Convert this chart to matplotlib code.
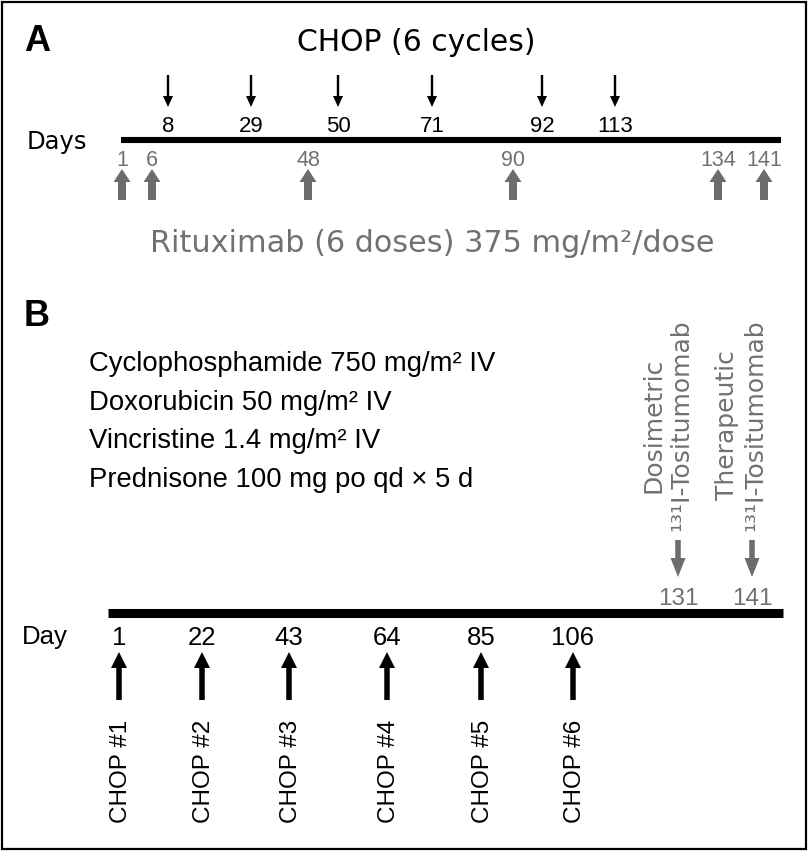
import matplotlib
matplotlib.use("Agg")
import matplotlib.pyplot as plt
from matplotlib.patches import FancyArrow, Rectangle

# ---------------- data ----------------
chop_days_a = [8, 29, 50, 71, 92, 113]
rituximab_days = [1, 6, 48, 90, 134, 141]
chop_days_b = [1, 22, 43, 64, 85, 106]
chop_cycle_labels = ["CHOP #1", "CHOP #2", "CHOP #3", "CHOP #4", "CHOP #5", "CHOP #6"]
tositumomab_days = [131, 141]
tositumomab_labels = ["Dosimetric\n¹³¹I-Tositumomab", "Therapeutic\n¹³¹I-Tositumomab"]
regimen_lines = [
    "Cyclophosphamide 750 mg/m² IV",
    "Doxorubicin 50 mg/m² IV",
    "Vincristine 1.4 mg/m² IV",
    "Prednisone 100 mg po qd × 5 d",
]
title_a = "CHOP (6 cycles)"
rituximab_text = "Rituximab (6 doses) 375 mg/m²/dose"

# ---------------- layout (schematic pixel positions) ----------------
xa_chop = [168, 251, 338, 432, 542, 615]
xa_ritux = [122, 152, 308, 513, 718, 764]
xb_chop = [119, 202, 289, 387, 481, 573]
xb_tosi = [678, 752]
GRAY = "#6c6c6c"
GRAY_T = "#717171"
W, H = 809, 851

fig = plt.figure(figsize=(W / 100, H / 100), dpi=100)
ax = fig.add_axes([0, 0, 1, 1])
ax.set_xlim(0, W)
ax.set_ylim(H, 0)
ax.axis("off")

DV = "DejaVu Sans"
LS = "Liberation Sans"

# border
ax.add_patch(Rectangle((2, 2), 804, 847, fill=False, ec="black", lw=1.6))

# ---------------- panel A ----------------
ax.text(24, 51, "A", fontsize=26, fontweight="bold", family=LS, va="baseline", ha="left")
ax.text(416, 51, title_a, fontsize=21.5, family=DV, ha="center", va="baseline")
ax.text(27, 149, "Days", fontsize=17.5, family=DV, ha="left", va="baseline")
ax.plot([121, 781], [140, 140], color="black", lw=4.4, solid_capstyle="butt")

for x, d in zip(xa_chop, chop_days_a):
    ax.add_patch(FancyArrow(x, 75, 0, 32, width=2.4, head_width=10, head_length=11,
                            length_includes_head=True, color="black", lw=0))
    ax.text(x, 132, str(d), fontsize=16, family=LS, ha="center", va="baseline")

for x, d in zip(xa_ritux, rituximab_days):
    ax.add_patch(FancyArrow(x, 200, 0, -31, width=8, head_width=17, head_length=13,
                            length_includes_head=True, color=GRAY, lw=0))
    ax.text(x, 166, str(d), fontsize=15.5, family=LS, ha="center", va="baseline", color=GRAY_T)

ax.text(432, 252, rituximab_text, fontsize=21.8, family=DV, ha="center", va="baseline", color=GRAY_T)

# ---------------- panel B ----------------
ax.text(24, 326, "B", fontsize=26, fontweight="bold", family=LS, va="baseline", ha="left")
for i, line in enumerate(regimen_lines):
    ax.text(89, 371 + i * 38.7, line, fontsize=19.8, family=LS, ha="left", va="baseline")

for x, lab in zip(xb_tosi, tositumomab_labels):
    ax.text(x - 11, 425, lab, fontsize=18, family=DV, rotation=90, ha="center", va="center",
            multialignment="center", color=GRAY_T, linespacing=1.2)

for x, d in zip(xb_tosi, tositumomab_days):
    ax.add_patch(FancyArrow(x, 540, 0, 37, width=5.5, head_width=15, head_length=19,
                            length_includes_head=True, color=GRAY, lw=0))
    ax.text(x, 605, str(d), fontsize=17.5, family=LS, ha="center", va="baseline", color=GRAY_T)

ax.plot([108, 783], [612.5, 612.5], color="black", lw=6.5, solid_capstyle="butt")
ax.text(22, 644, "Day", fontsize=18.5, family=LS, ha="left", va="baseline")

for x, d, lab in zip(xb_chop, chop_days_b, chop_cycle_labels):
    ax.text(x, 645, str(d), fontsize=18.5, family=LS, ha="center", va="baseline")
    ax.add_patch(FancyArrow(x, 700, 0, -48, width=5.5, head_width=16, head_length=16,
                            length_includes_head=True, color="black", lw=0))
    ax.text(x + 2, 823, lab, fontsize=17.5, family=LS, rotation=90, rotation_mode="anchor",
            ha="left", va="center")

fig.savefig("out.png", dpi=100)
